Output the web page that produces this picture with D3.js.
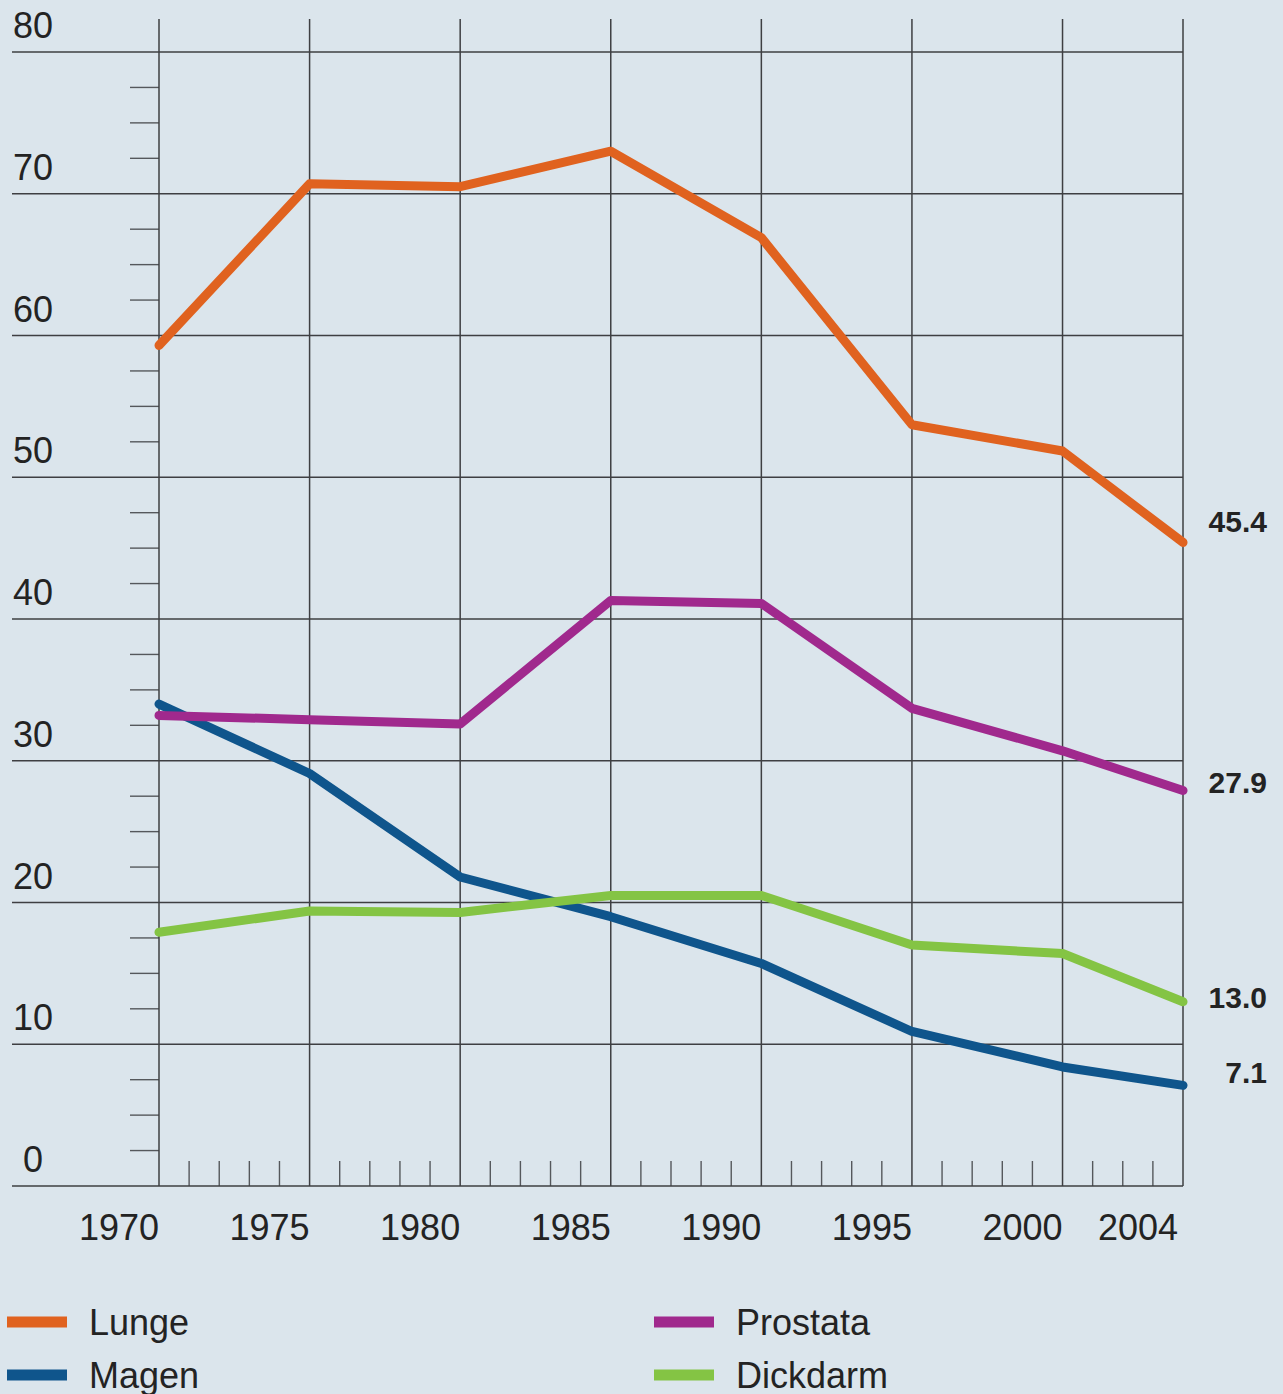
<!DOCTYPE html>
<html>
<head>
<meta charset="utf-8">
<script src="https://d3js.org/d3.v7.min.js"></script>
<style>
  body { margin: 0; background: #dbe5ec; }
  svg { display: block; }
</style>
</head>
<body>
<div id="chart"></div>
<script>
// data
var years = [1970, 1975, 1980, 1985, 1990, 1995, 2000, 2004];
var lunge = [59.3, 70.7, 70.5, 73.0, 66.9, 53.7, 51.85, 45.4];
var magen = [34.0, 29.1, 21.8, 19.0, 15.7, 10.9, 8.4, 7.1];
var prostata = [33.2, 32.9, 32.6, 41.3, 41.1, 33.7, 30.7, 27.9];
var dickdarm = [17.9, 19.4, 19.3, 20.5, 20.5, 17.0, 16.4, 13.0];
var seriesNames = ["Lunge", "Magen", "Prostata", "Dickdarm"];
var endLabels = ["45.4", "7.1", "27.9", "13.0"];
var yTickValues = [0, 10, 20, 30, 40, 50, 60, 70, 80];
var xTickLabels = ["1970", "1975", "1980", "1985", "1990", "1995", "2000", "2004"];

var svgWidth = 1283;
var svgHeight = 1394;

var colors = {
  Lunge: "#e0621f",
  Magen: "#0f558c",
  Prostata: "#a0298d",
  Dickdarm: "#84c444"
};

var svg = d3.select("#chart")
  .append("svg")
  .attr("width", svgWidth)
  .attr("height", svgHeight);

svg.append("rect")
  .attr("width", svgWidth)
  .attr("height", svgHeight)
  .attr("fill", "#dbe5ec");

var x = d3.scaleLinear().domain([1970, 2004]).range([159, 1183]);
var y = d3.scaleLinear().domain([0, 80]).range([1186, 52]);

var gridColor = "#3e3f42";
var textColor = "#232323";
var font = "'Liberation Sans', Arial, sans-serif";

// minor ticks on the left (every 2.5)
var minorY = d3.range(0, 80, 2.5).filter(d => d % 10 !== 0);
svg.append("g").selectAll("line")
  .data(minorY)
  .enter()
  .append("line")
  .attr("x1", 130)
  .attr("x2", x(1970))
  .attr("y1", d => y(d))
  .attr("y2", d => y(d))
  .attr("stroke", "#55585c")
  .attr("stroke-width", 1.4);

// minor ticks at the bottom (every year)
var minorX = d3.range(1971, 2004).filter(d => xTickLabels.indexOf(String(d)) < 0);
svg.append("g").selectAll("line")
  .data(minorX)
  .enter()
  .append("line")
  .attr("x1", d => x(d))
  .attr("x2", d => x(d))
  .attr("y1", 1161)
  .attr("y2", y(0))
  .attr("stroke", "#55585c")
  .attr("stroke-width", 1.4);

// horizontal grid
svg.append("g").selectAll("line")
  .data(yTickValues)
  .enter()
  .append("line")
  .attr("x1", 12)
  .attr("x2", x(2004))
  .attr("y1", d => y(d))
  .attr("y2", d => y(d))
  .attr("stroke", gridColor)
  .attr("stroke-width", 1.5);

// vertical grid
svg.append("g").selectAll("line")
  .data(years)
  .enter()
  .append("line")
  .attr("x1", d => x(d))
  .attr("x2", d => x(d))
  .attr("y1", 19)
  .attr("y2", y(0))
  .attr("stroke", gridColor)
  .attr("stroke-width", 1.5);

// y labels sit above their gridline
svg.append("g").selectAll("text")
  .data(yTickValues)
  .enter()
  .append("text")
  .attr("x", 33)
  .attr("y", d => y(d) - 14)
  .attr("text-anchor", "middle")
  .attr("font-family", font)
  .attr("font-size", "36px")
  .attr("fill", textColor)
  .text(d => d);

// x labels, right aligned on their gridline
svg.append("g").selectAll("text")
  .data(xTickLabels)
  .enter()
  .append("text")
  .attr("x", (d, i) => x(+d) - (i === xTickLabels.length - 1 ? 5 : 0))
  .attr("y", 1240)
  .attr("text-anchor", "end")
  .attr("font-family", font)
  .attr("font-size", "36px")
  .attr("fill", textColor)
  .text(d => d);

var series = [
  { name: "Lunge", values: lunge, label: endLabels[0], nudge: -10 },
  { name: "Magen", values: magen, label: endLabels[1], nudge: -2 },
  { name: "Prostata", values: prostata, label: endLabels[2], nudge: 2 },
  { name: "Dickdarm", values: dickdarm, label: endLabels[3], nudge: 6 }
];

var line = d3.line()
  .x((d, i) => x(years[i]))
  .y(d => y(d));

// drawing order: blue, green, purple, orange on top
var drawOrder = ["Magen", "Dickdarm", "Prostata", "Lunge"];
drawOrder.forEach(function(name) {
  var s = series.find(d => d.name === name);
  svg.append("path")
    .datum(s.values)
    .attr("d", line)
    .attr("fill", "none")
    .attr("stroke", colors[name])
    .attr("stroke-width", 9)
    .attr("stroke-linecap", "round")
    .attr("stroke-linejoin", "round");
});

// end-value labels
svg.append("g").selectAll("text")
  .data(series)
  .enter()
  .append("text")
  .attr("x", 1267)
  .attr("y", d => y(d.values[d.values.length - 1]) + d.nudge)
  .attr("text-anchor", "end")
  .attr("font-family", font)
  .attr("font-weight", "bold")
  .attr("font-size", "30px")
  .attr("fill", textColor)
  .text(d => d.label);

// legend
var legendPos = [[7, 1322], [7, 1375], [654, 1322], [654, 1375]];
var legend = svg.append("g").selectAll("g")
  .data(seriesNames)
  .enter()
  .append("g")
  .attr("transform", (d, i) => `translate(${legendPos[i][0]}, ${legendPos[i][1]})`);

legend.append("rect")
  .attr("x", 0)
  .attr("y", -5.5)
  .attr("width", 60)
  .attr("height", 11)
  .attr("fill", d => colors[d]);

legend.append("text")
  .attr("x", 82)
  .attr("y", 13)
  .attr("font-family", font)
  .attr("font-size", "36px")
  .attr("fill", textColor)
  .text(d => d);
</script>
</body>
</html>
